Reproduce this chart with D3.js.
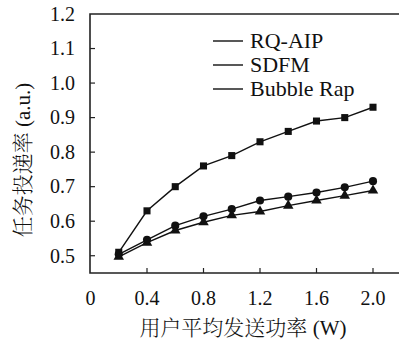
<!DOCTYPE html>
<html>
<head>
<meta charset="utf-8">
<script src="https://cdn.jsdelivr.net/npm/d3@7"></script>
<style>
  body { margin: 0; background: #fff; }
  svg text { fill: #111; }
  .serif { font-family: 'Liberation Serif', 'DejaVu Serif', 'Noto Serif', 'Noto Serif CJK SC', 'Tinos', 'FreeSerif', 'Times New Roman', Times, serif; }
  .cjk { font-family: 'Noto Serif CJK SC', 'Noto Sans CJK SC', sans-serif; font-weight: 300; }
</style>
</head>
<body>
<div id="chart"></div>
<script>
// x values (W) and delivery rates
const power = [0.2, 0.4, 0.6, 0.8, 1.0, 1.2, 1.4, 1.6, 1.8, 2.0];
const rqAip = [0.51, 0.63, 0.70, 0.76, 0.79, 0.83, 0.86, 0.89, 0.90, 0.93];
const sdfm = [0.504, 0.546, 0.587, 0.614, 0.635, 0.66, 0.671, 0.683, 0.698, 0.716];
const bubbleRap = [0.497, 0.538, 0.573, 0.597, 0.617, 0.628, 0.645, 0.66, 0.674, 0.689];
const seriesNames = ['RQ-AIP', 'SDFM', 'Bubble Rap'];
const xTicks = [0, 0.4, 0.8, 1.2, 1.6, 2.0];
const yTicks = [0.5, 0.6, 0.7, 0.8, 0.9, 1.0, 1.1, 1.2];

let width = 399,
    height = 340,
    margin = { top: 14, right: 0, bottom: 67, left: 90 };

const series = [
    { name: seriesNames[0], values: rqAip, marker: 'square' },
    { name: seriesNames[1], values: sdfm, marker: 'circle' },
    { name: seriesNames[2], values: bubbleRap, marker: 'triangle' }
];

const x = d3.scaleLinear().domain([0, 2.2]).range([margin.left + 0.5, margin.left + 0.5 + 2.2 * 141.25]);
const y = d3.scaleLinear().domain([0.45, 1.2]).range([height - margin.bottom, margin.top]);

const svg = d3.select('#chart').append('svg')
    .attr('width', width)
    .attr('height', height);

const symbols = {
    square: d3.symbol().type(d3.symbolSquare).size(50),
    circle: d3.symbol().type(d3.symbolCircle).size(52),
    triangle: d3.symbol().type(d3.symbolTriangle).size(48)
};

// frame: left, top, bottom (right side is cut off)
const y0 = y(0.45), y1 = y(1.2);
svg.append('path')
    .attr('d', `M${width},${y1}H${margin.left}V${y0}H${width}`)
    .attr('fill', 'none')
    .attr('stroke', '#222')
    .attr('stroke-width', 1.6);

// inward ticks
svg.selectAll('.ytick')
    .data(yTicks.filter(t => t < 1.2))
    .enter().append('line')
    .attr('x1', margin.left).attr('x2', margin.left + 5)
    .attr('y1', d => y(d)).attr('y2', d => y(d))
    .attr('stroke', '#222').attr('stroke-width', 1.2);

svg.selectAll('.xtick')
    .data(xTicks.filter(t => t > 0))
    .enter().append('line')
    .attr('x1', d => x(d)).attr('x2', d => x(d))
    .attr('y1', y0).attr('y2', y0 - 5)
    .attr('stroke', '#222').attr('stroke-width', 1.2);

svg.selectAll('.ylabel')
    .data(yTicks)
    .enter().append('text')
    .attr('class', 'serif')
    .attr('x', 75)
    .attr('y', d => y(d))
    .attr('dy', '0.34em')
    .attr('text-anchor', 'end')
    .attr('font-size', 20)
    .text(d => d.toFixed(1));

svg.selectAll('.xlabel')
    .data(xTicks)
    .enter().append('text')
    .attr('class', 'serif')
    .attr('x', d => x(d))
    .attr('y', 298)
    .attr('dy', '0.34em')
    .attr('text-anchor', 'middle')
    .attr('font-size', 20)
    .text(d => d === 0 ? '0' : d.toFixed(1));

// axis titles
const xTitle = svg.append('text')
    .attr('x', 243)
    .attr('y', 327)
    .attr('dy', '0.36em')
    .attr('text-anchor', 'middle')
    .attr('font-size', 21);
xTitle.append('tspan').attr('class', 'cjk').text('用户平均发送功率 ');
xTitle.append('tspan').attr('class', 'serif').text('(W)');

const yTitle = svg.append('text')
    .attr('transform', 'translate(22,160) rotate(-90)')
    .attr('dy', '0.36em')
    .attr('text-anchor', 'middle')
    .attr('font-size', 21);
yTitle.append('tspan').attr('class', 'cjk').text('任务投递率 ');
yTitle.append('tspan').attr('class', 'serif').text('(a.u.)');

// lines + markers
const line = d3.line()
    .x((d, i) => x(power[i]))
    .y(d => y(d));

const groups = svg.selectAll('.series')
    .data(series)
    .enter().append('g');

groups.append('path')
    .attr('d', d => line(d.values))
    .attr('fill', 'none')
    .attr('stroke', '#111')
    .attr('stroke-width', 1.4);

groups.each(function (s) {
    d3.select(this).selectAll('path.mk')
        .data(s.values)
        .enter().append('path')
        .attr('class', 'mk')
        .attr('d', symbols[s.marker])
        .attr('transform', (d, i) => `translate(${x(power[i])},${y(d)})`)
        .attr('fill', '#111');
});

// legend
const legend = svg.selectAll('.legend')
    .data(series)
    .enter().append('g')
    .attr('transform', (d, i) => `translate(213,${41 + i * 24})`);

legend.append('line')
    .attr('x1', 0).attr('x2', 30)
    .attr('stroke', '#111').attr('stroke-width', 1.4);

legend.append('path')
    .attr('d', d => symbols[d.marker])
    .attr('transform', 'translate(15,0)')
    .attr('fill', '#111');

legend.append('text')
    .attr('class', 'serif')
    .attr('x', 37)
    .attr('dy', '0.34em')
    .attr('font-size', 22)
    .text(d => d.name);
</script>
</body>
</html>
